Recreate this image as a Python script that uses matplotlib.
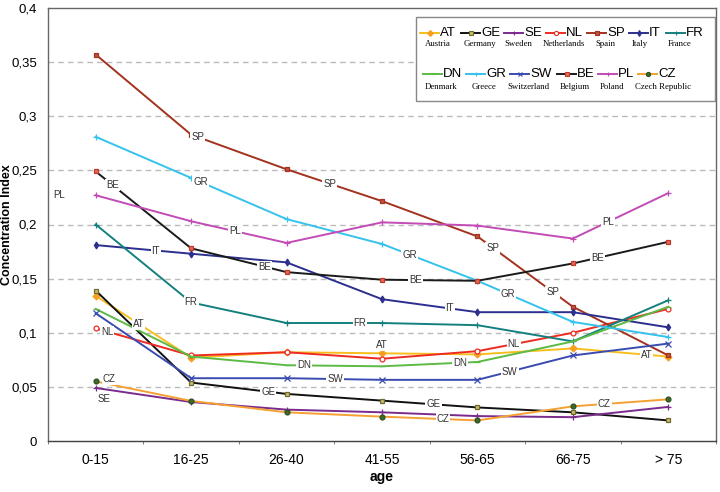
import numpy as np
import matplotlib.pyplot as plt
from matplotlib.lines import Line2D
from matplotlib.patches import Rectangle
from matplotlib.ticker import FuncFormatter, MultipleLocator

plt.rcParams['font.family'] = ['Liberation Sans', 'DejaVu Sans']

ages = ['0-15', '16-25', '26-40', '41-55', '56-65', '66-75', '> 75']

AT = [0.134, 0.077, 0.082, 0.081, 0.080, 0.0855, 0.078]
GE = [0.139, 0.054, 0.0435, 0.0373, 0.031, 0.0265, 0.019]
SE = [0.049, 0.036, 0.029, 0.0265, 0.023, 0.022, 0.0315]
NL = [0.104, 0.079, 0.082, 0.076, 0.083, 0.100, 0.122]
SP = [0.357, 0.283, 0.251, 0.2216, 0.189, 0.124, 0.079]
IT = [0.181, 0.173, 0.165, 0.131, 0.119, 0.119, 0.105]
FR = [0.200, 0.128, 0.109, 0.109, 0.107, 0.092, 0.130]
DN = [0.122, 0.078, 0.070, 0.069, 0.073, 0.092, 0.124]
GR = [0.281, 0.243, 0.205, 0.182, 0.148, 0.110, 0.096]
SW = [0.118, 0.058, 0.058, 0.0565, 0.0565, 0.079, 0.090]
BE = [0.249, 0.178, 0.156, 0.149, 0.148, 0.164, 0.184]
PL = [0.227, 0.203, 0.183, 0.202, 0.199, 0.187, 0.229]
CZ = [0.055, 0.037, 0.0265, 0.0225, 0.019, 0.032, 0.0385]

codes = ['AT', 'GE', 'SE', 'NL', 'SP', 'IT', 'FR',
         'DN', 'GR', 'SW', 'BE', 'PL', 'CZ']
names = ['Austria', 'Germany', 'Sweden', 'Netherlands', 'Spain', 'Italy', 'France',
         'Denmark', 'Greece', 'Switzerland', 'Belgium', 'Poland', 'Czech Republic']
values = [AT, GE, SE, NL, SP, IT, FR, DN, GR, SW, BE, PL, CZ]

# line colour, marker, marker face, marker edge
styles = {
    'AT': ('#F7BE1E', 'D', '#F7A020', '#F7A020'),
    'GE': ('#111111', 's', '#C9BC6A', '#6E6A2E'),
    'SE': ('#7A2B8E', '+', '#7A2B8E', '#7A2B8E'),
    'NL': ('#EE2B22', 'o', 'white', '#EE2B22'),
    'SP': ('#A3321E', 's', '#C05040', '#A3321E'),
    'IT': ('#2C2F8E', 'd', '#2C2F8E', '#2C2F8E'),
    'FR': ('#14807E', '+', '#14807E', '#14807E'),
    'DN': ('#5CBA45', '_', '#5CBA45', '#5CBA45'),
    'GR': ('#35C2EC', '+', '#35C2EC', '#35C2EC'),
    'SW': ('#3A4BB0', 'x', '#3A4BB0', '#3A4BB0'),
    'BE': ('#1A1A1A', 's', '#E36A5A', '#C0392B'),
    'PL': ('#C24CB6', '+', '#C24CB6', '#C24CB6'),
    'CZ': ('#F5A032', 'o', '#3D6B2C', '#2C4F20'),
}

# inline labels: (code, position along x in category units, vertical offset in points)
inline_labels = [
    ('SP', 1.07, 0), ('SP', 2.45, 0), ('SP', 4.16, 0), ('SP', 4.79, 0),
    ('GR', 1.10, 0), ('GR', 3.29, 0), ('GR', 4.32, 0),
    ('BE', 0.18, 0), ('BE', 1.77, 0), ('BE', 3.35, 0), ('BE', 5.26, 0),
    ('PL', -0.38, 0), ('PL', 1.46, 0), ('PL', 5.37, 0),
    ('IT', 0.63, 0), ('IT', 3.71, 0),
    ('FR', 1.0, 0), ('FR', 2.77, 0),
    ('AT', 0.45, 0), ('AT', 3.0, 6), ('AT', 5.77, 0),
    ('NL', 0.12, 0), ('NL', 4.38, 0),
    ('DN', 2.18, 0), ('DN', 3.82, 0),
    ('SW', 2.51, 0), ('SW', 4.34, 0),
    ('GE', 1.81, 0), ('GE', 3.54, 0),
    ('CZ', 0.14, 4), ('CZ', 3.64, 0), ('CZ', 5.33, 0),
    ('SE', 0.09, -7),
]

fig = plt.figure(figsize=(7.2, 4.92), dpi=100)
ax = fig.add_axes([48 / 720, 1 - 441 / 492, 668 / 720, 433 / 492])

x = np.arange(len(ages))
series = dict(zip(codes, values))
for code in codes:
    col, mk, fc, ec = styles[code]
    ax.plot(x, series[code], color=col, lw=1.4, marker=mk, ms=3.5 if mk not in '+x_' else 4,
            mfc=fc, mec=ec, mew=0.9, zorder=3)

for code, pos, dy in inline_labels:
    yv = np.interp(pos, x, series[code])
    ax.annotate(code, (pos, yv), xytext=(0, dy), textcoords='offset points',
                ha='center', va='center', fontsize=7, color='#333333', zorder=5,
                bbox=dict(boxstyle='square,pad=0.1', fc='white', ec='none'))

ax.set_xlim(-0.5, 6.5)
ax.set_ylim(0, 0.4)
ax.yaxis.set_major_locator(MultipleLocator(0.05))
ax.yaxis.set_major_formatter(FuncFormatter(lambda v, p: f'{v:.2f}'.rstrip('0').rstrip(',.').replace('.', ',') if v else '0'))
ax.set_xticks(x)
ax.set_xticklabels(ages)
ax.set_xticks(np.arange(-0.5, 7, 1), minor=True)
ax.tick_params(axis='x', which='major', length=0, pad=9, labelsize=10)
ax.tick_params(axis='x', which='minor', length=2, color='#666666')
ax.tick_params(axis='y', length=0, pad=8, labelsize=9.5)
for y in np.arange(0.05, 0.36, 0.05):
    ax.axhline(y, color='#BBBBBB', lw=1, ls=(0, (4, 3)), zorder=1)
for s in ax.spines.values():
    s.set_color('#666666')
    s.set_linewidth(1)
ax.spines['bottom'].set_linestyle((0, (1, 0.8)))
ax.spines['bottom'].set_color('#444444')
ax.set_xlabel('age', fontweight='bold', fontsize=10)
ax.xaxis.set_label_coords(0.5, -(470 - 441) / 433)
ax.set_ylabel('Concentration Index', fontweight='bold', fontsize=9)
ax.yaxis.set_label_coords(-(48 - 13) / 668, 0.5)

# legend box drawn by hand in figure pixel coordinates
def fx(px):
    return px / 720

def fy(py):
    return 1 - py / 492

fig.patches.append(Rectangle((fx(416), fy(101)), fx(715) - fx(416), fy(17) - fy(101),
                             transform=fig.transFigure, fc='white', ec='#888888', lw=1, zorder=10))
row_y = [33, 74]
name_y = [44.5, 87]
line_x = [[420, 461, 504, 546, 587, 629, 666], [423, 466, 510, 557, 598, 638]]
name_x = [[438, 480, 518, 564, 605, 640, 680], [441, 484, 528, 575, 612, 663]]
k = 0
for r in range(2):
    for cx, nx in zip(line_x[r], name_x[r]):
        code = codes[k]
        col, mk, fc, ec = styles[code]
        fig.lines.append(Line2D([fx(cx), fx(cx + 19)], [fy(row_y[r])] * 2, transform=fig.transFigure,
                                color=col, lw=1.4, zorder=11))
        fig.lines.append(Line2D([fx(cx + 9.5)], [fy(row_y[r])], transform=fig.transFigure,
                                marker=mk, ms=3, mfc=fc, mec=ec, mew=0.8, color=col, zorder=12))
        fig.text(fx(cx + 20), fy(row_y[r]), code, fontsize=9.5, va='center', ha='left', zorder=12)
        fig.text(fx(nx), fy(name_y[r]), names[k], fontsize=6.3, va='center', ha='center',
                 family=['Liberation Serif', 'DejaVu Serif'], zorder=12)
        k += 1

fig.savefig('out.png', dpi=100)
